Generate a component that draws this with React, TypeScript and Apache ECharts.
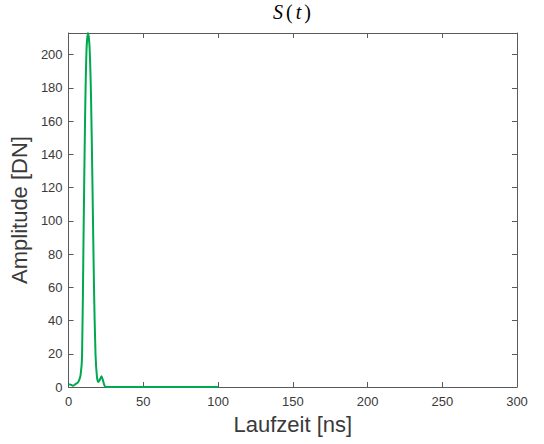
import React, { useEffect, useRef } from "react";
import * as echarts from "echarts";

const times: number[] = [0, 1, 2, 3, 4, 5, 6, 7, 8, 9, 10, 11, 12, 13, 14, 15, 16, 17, 18, 19, 20, 21, 22, 23, 24, 25, 30, 40, 50, 60, 70, 80, 90, 100];
const amplitude: number[] = [1.5, 1.5, 1.2, 0.8, 1.3, 2, 2.5, 4, 7, 18, 90, 160, 203, 213, 205, 175, 120, 60, 20, 6, 3, 4.5, 6.5, 4, 1, 0, 0, 0, 0, 0, 0, 0, 0, 0];
const xTicks: number[] = [0, 50, 100, 150, 200, 250, 300];
const yTicks: number[] = [0, 20, 40, 60, 80, 100, 120, 140, 160, 180, 200];

export default function App() {
  const ref = useRef<HTMLDivElement>(null);
  useEffect(() => {
    if (!ref.current) return;
    const chart = echarts.init(ref.current, null, { renderer: "svg" });
    const axisColor = "#5a5a5a";
    const labelColor = "#3a3a3a";
    const font = "Liberation Sans, Arial, sans-serif";
    const serif = "Liberation Serif, DejaVu Serif, serif";
    const hidden = { show: false };
    const line = { show: true, onZero: false, lineStyle: { color: axisColor, width: 1 } };
    const tick = { show: true, inside: true, length: 5, lineStyle: { color: axisColor } };
    chart.setOption({
      animation: false,
      backgroundColor: "#ffffff",
      grid: { left: 67, top: 33, width: 450, height: 354, containLabel: false },
      graphic: [
        {
          type: "text",
          x: 292,
          y: 12,
          style: {
            text: "{i|S}{n|(}{i|t}{n|)}",
            align: "center",
            verticalAlign: "middle",
            rich: {
              i: { fontFamily: serif, fontStyle: "italic", fontSize: 20, fill: "#000", padding: [0, 1.5, 0, 1.5] },
              n: { fontFamily: serif, fontSize: 20, fill: "#000", padding: [0, 1.5, 0, 1.5] },
            },
          },
        },
      ],
      xAxis: [
        {
          type: "value",
          min: 0,
          max: 300,
          interval: 50,
          position: "bottom",
          name: "Laufzeit [ns]",
          nameLocation: "middle",
          nameGap: 26,
          nameTextStyle: { fontSize: 22, color: labelColor, fontFamily: font },
          axisLine: line,
          axisTick: tick,
          axisLabel: {
            show: true,
            fontSize: 13,
            color: labelColor,
            fontFamily: font,
            margin: 8,
            formatter: (v: number) => (xTicks.includes(v) ? String(v) : ""),
          },
          splitLine: hidden,
        },
        {
          type: "value",
          min: 0,
          max: 300,
          interval: 50,
          position: "top",
          axisLine: line,
          axisTick: tick,
          axisLabel: hidden,
          splitLine: hidden,
        },
      ],
      yAxis: [
        {
          type: "value",
          min: 0,
          max: 213,
          interval: 20,
          position: "left",
          name: "Amplitude [DN]",
          nameLocation: "middle",
          nameGap: 30,
          nameTextStyle: { fontSize: 22, color: labelColor, fontFamily: font },
          axisLine: line,
          axisTick: tick,
          axisLabel: {
            show: true,
            fontSize: 13,
            color: labelColor,
            fontFamily: font,
            margin: 6,
            showMaxLabel: false,
            formatter: (v: number) => (yTicks.includes(v) ? String(v) : ""),
          },
          splitLine: hidden,
        },
        {
          type: "value",
          min: 0,
          max: 213,
          interval: 20,
          position: "right",
          axisLine: line,
          axisTick: tick,
          axisLabel: hidden,
          splitLine: hidden,
        },
      ],
      series: [
        {
          type: "line",
          xAxisIndex: 0,
          yAxisIndex: 0,
          data: times.map((t, i) => [t, amplitude[i]]),
          smooth: 0.25,
          showSymbol: false,
          lineStyle: { color: "#00a84f", width: 2 },
          clip: true,
        },
      ],
    });
    return () => chart.dispose();
  }, []);
  return (
    <div style={{ position: "fixed", left: 0, top: 0, width: 544, height: 444, background: "#fff" }}>
      <div ref={ref} style={{ width: 544, height: 444 }} />
    </div>
  );
}
